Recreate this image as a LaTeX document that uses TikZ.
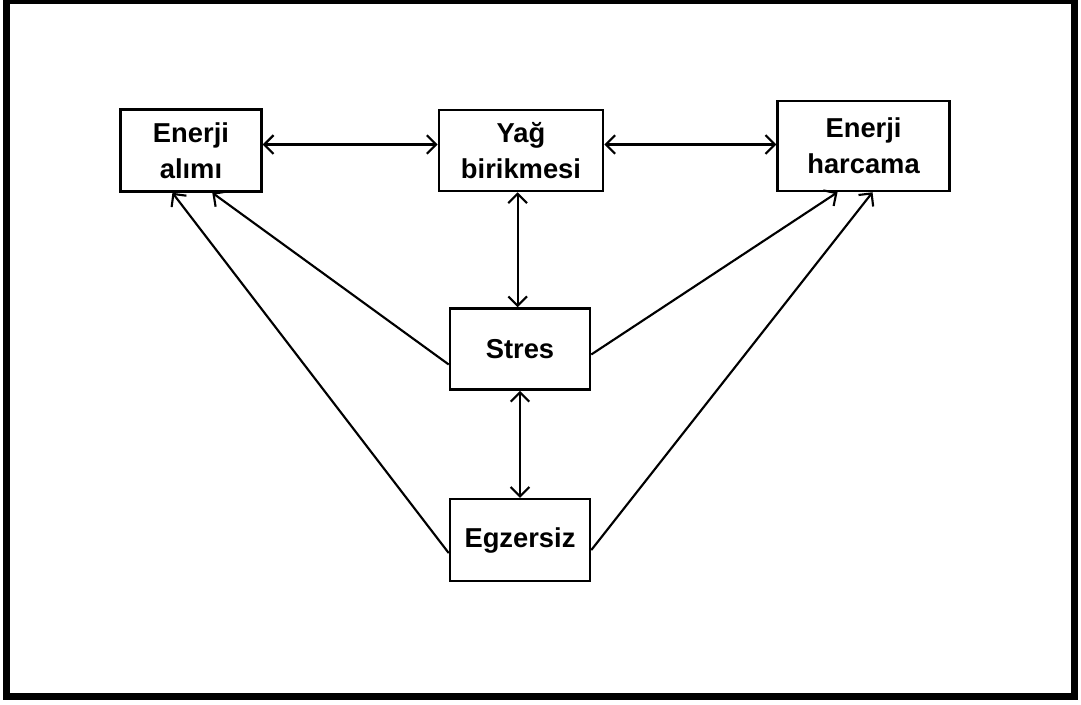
\documentclass[tikz,border=0pt]{standalone}
\usepackage{fontspec}
\setmainfont{Liberation Sans}
\usetikzlibrary{arrows.meta,positioning}

\begin{document}
\begin{tikzpicture}[x=0.75pt,y=-0.75pt,
    blok/.style={draw,line width=1.9pt,align=center,inner sep=0pt,
      font=\fontsize{20.5pt}{27pt}\selectfont\bfseries},
    ok/.style={line width=1.6pt},
    >={Straight Barb[length=7pt,width=14pt]}]
    \useasboundingbox (0,0) rectangle (1081,704);
    \draw[line width=5.25pt] (6.5,0) rectangle (1074.5,696.5);

    \node[blok,minimum width=123pt,minimum height=60.75pt] (yag) at (521,150.5) {Yağ\\birikmesi};
    \node[blok,minimum width=105.75pt,minimum height=61.5pt,left=131.25pt of yag] (alim) {Enerji\\alımı};
    \node[blok,minimum width=129pt,minimum height=67.5pt,right=129pt of yag,yshift=3.4pt] (harc) {Enerji\\harcama};
    \node[blok,minimum width=105pt,minimum height=60.75pt,below=86.25pt of yag,xshift=-0.75pt] (stres) {Stres};
    \node[blok,minimum width=105pt,minimum height=61.5pt,below=80.25pt of stres] (egz) {Egzersiz};

    \draw[ok,<->] ([yshift=4.5pt]alim.east) -- ([yshift=4.5pt]alim.east -| yag.west);
    \draw[ok,<->] ([yshift=4.5pt]yag.east) -- ([yshift=4.5pt]yag.east -| harc.west);
    \draw[ok,<->] ([xshift=-2.5pt]yag.south) -- ([xshift=-2.5pt]yag.south |- stres.north);
    \draw[ok,<->] (stres) -- (egz);
    \draw[ok,->] ([yshift=-11.6pt]stres.west) -- ([xshift=16pt]alim.south);
    \draw[ok,->] ([yshift=-9.75pt]egz.west) -- ([xshift=-13.9pt]alim.south);
    \draw[ok,->] ([yshift=-4.1pt]stres.east) -- ([xshift=-19.5pt]harc.south);
    \draw[ok,->] ([yshift=-7.5pt]egz.east) -- ([xshift=6.75pt]harc.south);
  \end{tikzpicture}
\end{document}
